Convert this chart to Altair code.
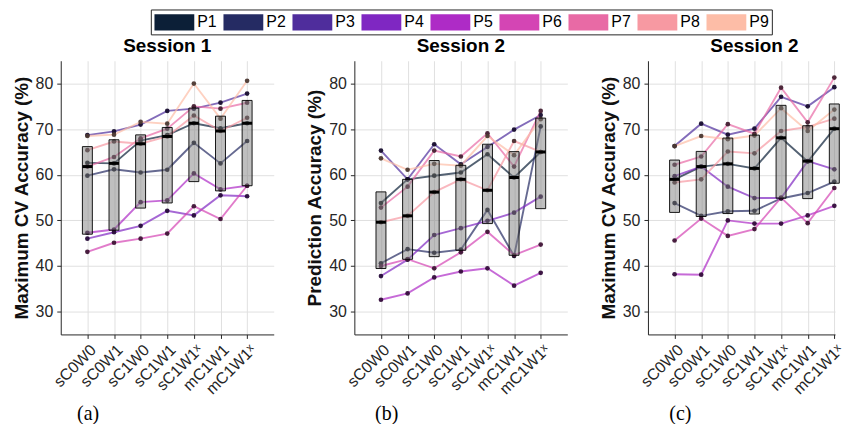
import altair as alt
import numpy as np
import pandas as pd

categories = ["sC0W0", "sC0W1", "sC1W0", "sC1W1", "sC1W1ˣ", "mC1W1", "mC1W1ˣ"]
participants = ["P1", "P2", "P3", "P4", "P5", "P6", "P7", "P8", "P9"]
colors = ["#0c1f37", "#252b63", "#4f2d9c", "#7f27c2", "#ae2bc6",
          "#d445b4", "#e86aa5", "#f799a2", "#fdbda7"]

panel_titles = ["Session 1", "Session 2", "Session 2"]
y_titles = ["Maximum CV Accuracy (%)", "Prediction Accuracy (%)", "Maximum CV Accuracy (%)"]
sub_labels = ["(a)", "(b)", "(c)"]
sub_label_x = [27, 32, 32]
y_ticks = [30, 40, 50, 60, 70, 80]

session1_cv = {
    "P1": [62.6, 62.5, 67.5, 68.7, 71.3, 70.2, 71.3],
    "P2": [59.8, 61.2, 60.5, 61.1, 67.0, 62.5, 67.4],
    "P3": [68.7, 69.5, 71.0, 74.0, 74.5, 75.8, 77.8],
    "P4": [46.0, 47.4, 48.8, 52.1, 51.1, 55.5, 55.3],
    "P5": [47.3, 48.0, 54.0, 54.4, 60.3, 56.8, 57.6],
    "P6": [43.1, 45.1, 46.0, 47.1, 53.1, 50.3, 57.6],
    "P7": [61.8, 63.9, 68.0, 70.1, 75.0, 74.5, 75.8],
    "P8": [65.4, 67.3, 66.8, 68.4, 73.0, 69.6, 72.5],
    "P9": [68.5, 68.8, 71.6, 71.2, 80.0, 72.3, 80.6],
}

session2_pred = {
    "P1": [53.8, 59.0, 59.8, 60.5, 64.5, 59.4, 65.0],
    "P2": [40.6, 43.7, 42.9, 43.6, 52.3, 42.2, 70.6],
    "P3": [65.3, 59.0, 66.7, 62.3, 66.1, 69.9, 73.1],
    "P4": [37.8, 41.4, 46.8, 48.3, 49.9, 51.7, 55.2],
    "P5": [32.6, 34.0, 37.5, 38.8, 39.5, 35.7, 38.5],
    "P6": [40.0, 41.5, 39.5, 43.0, 47.5, 42.4, 44.7],
    "P7": [52.8, 57.4, 65.3, 64.0, 69.1, 61.8, 74.0],
    "P8": [49.6, 51.0, 56.2, 59.0, 56.6, 67.4, 65.0],
    "P9": [63.6, 61.1, 62.4, 62.0, 68.5, 64.3, 72.2],
}

session2_cv = {
    "P1": [59.0, 61.8, 62.4, 61.4, 68.1, 62.9, 70.1],
    "P2": [53.8, 51.0, 52.0, 52.1, 54.8, 56.0, 58.5],
    "P3": [66.3, 71.2, 68.8, 70.1, 77.1, 75.0, 79.2],
    "P4": [59.7, 61.8, 57.4, 54.9, 54.9, 63.0, 61.2],
    "P5": [38.2, 38.1, 50.0, 49.3, 49.3, 51.1, 53.2],
    "P6": [45.6, 50.4, 46.6, 48.1, 55.0, 49.4, 57.1],
    "P7": [62.2, 64.0, 71.1, 69.0, 79.1, 71.5, 81.3],
    "P8": [58.3, 59.0, 65.1, 64.7, 69.6, 70.5, 72.3],
    "P9": [66.3, 68.5, 67.8, 68.6, 74.6, 69.6, 74.3],
}

panels_data = [session1_cv, session2_pred, session2_cv]


def darken(hexc, f=0.3):
    r, g, b = int(hexc[1:3], 16), int(hexc[3:5], 16), int(hexc[5:7], 16)
    return "#%02x%02x%02x" % (int(r * f), int(g * f), int(b * f))


dark_colors = [darken(c) for c in colors]

FONT = "Liberation Sans"
AXIS_COLOR = "#262626"
GRID_COLOR = "#e0e0e0"
H = 275
panel_widths = [214, 214, 188]
# point-scale layout so every panel has the same category spacing (26.75 px)
x_padding = [1.0, 1.0, 0.514]
x_align = [0.5, 0.5, 0.973]
title_dx = [0, 0, 13]

# legend geometry (relative to the left edge of the first plot)
LEG_LEFT, LEG_RIGHT, LEG_H = 91, 715, 25


def make_panel(i, values):
    rows = []
    for p in participants:
        for j, c in enumerate(categories):
            rows.append({"participant": p, "category": c, "value": values[p][j]})
    df = pd.DataFrame(rows)

    stats = []
    for j, c in enumerate(categories):
        v = np.array([values[p][j] for p in participants])
        q1, med, q3 = np.percentile(v, [25, 50, 75], method="hazen")
        stats.append({"category": c, "q1": q1, "med": med, "q3": q3})
    sdf = pd.DataFrame(stats)

    x_axis = alt.Axis(
        title=sub_labels[i], titleFont="Liberation Serif", titleFontSize=20,
        titleFontWeight="normal", titleColor="black", titleX=sub_label_x[i],
        titleY=79, titleBaseline="middle", titleAlign="center", titleAngle=0,
        labelAngle=-45, labelAlign="right", labelBaseline="top",
        labelFont=FONT, labelFontSize=16, labelColor=AXIS_COLOR, labelPadding=3,
        labelOverlap=False, tickSize=4, tickColor=AXIS_COLOR,
        domainColor=AXIS_COLOR, grid=True, gridColor=GRID_COLOR,
    )
    y_axis = alt.Axis(
        values=y_ticks, title=y_titles[i], titleFont=FONT, titleFontSize=19,
        titleFontWeight="bold", titleColor="#111111", titlePadding=4,
        labelFont=FONT, labelFontSize=16, labelColor=AXIS_COLOR, labelPadding=4,
        tickSize=4, tickColor=AXIS_COLOR, domainColor=AXIS_COLOR,
        grid=True, gridColor=GRID_COLOR,
    )
    xs = alt.Scale(type="point", padding=x_padding[i], align=x_align[i])
    ys = alt.Scale(domain=[25, 85], nice=False, zero=False)

    def X():
        return alt.X("category:N", sort=categories, scale=xs, axis=x_axis)

    def Yv():
        return alt.Y("value:Q", scale=ys, axis=y_axis)

    lines = alt.Chart(df).mark_line(strokeWidth=1.9, opacity=0.7).encode(
        x=X(), y=Yv(),
        stroke=alt.Stroke("participant:N", scale=alt.Scale(domain=participants, range=colors), legend=None),
    )
    dots = alt.Chart(df).mark_circle(size=22, opacity=0.95).encode(
        x=X(), y=Yv(),
        fill=alt.Fill("participant:N", scale=alt.Scale(domain=participants, range=dark_colors), legend=None),
    )
    boxes = alt.Chart(sdf).mark_bar(size=10, fill="#808080", fillOpacity=0.5,
                                    stroke="black", strokeWidth=1, strokeOpacity=0.9).encode(
        x=X(),
        y=alt.Y("q1:Q", scale=ys, axis=y_axis),
        y2="q3:Q",
    )
    medians = alt.Chart(sdf).mark_tick(color="black", thickness=3, size=10, opacity=1).encode(
        x=X(),
        y=alt.Y("med:Q", scale=ys, axis=y_axis),
    )

    return alt.layer(lines, dots, boxes, medians).properties(
        width=panel_widths[i], height=H,
        title=alt.TitleParams(
            text=panel_titles[i], font=FONT, fontSize=19, fontWeight="bold",
            color="black", offset=7.6, baseline="alphabetic", anchor="middle",
            frame="group", dx=title_dx[i], dy=18,
        ),
    )


# ---- legend row ----
leg_df = pd.DataFrame({"participant": participants})
frame_df = pd.DataFrame({"frame": [0]})
leg_x = alt.X("participant:N", sort=participants,
              scale=alt.Scale(type="point", padding=0.5, range=[LEG_LEFT, LEG_RIGHT]),
              axis=None)
frame = alt.Chart(frame_df).mark_rect(fill="white", stroke=AXIS_COLOR, strokeWidth=1).encode(
    x=alt.value(LEG_LEFT), x2=alt.value(LEG_RIGHT), y=alt.value(0), y2=alt.value(LEG_H),
)
swatches = alt.Chart(leg_df).mark_point(
    shape="M-1,-0.41H1V0.41H-1Z", size=1600, filled=True, opacity=1,
    strokeWidth=0, xOffset=-11.5,
).encode(
    x=leg_x,
    color=alt.Color("participant:N", scale=alt.Scale(domain=participants, range=colors), legend=None),
)
leg_labels = alt.Chart(leg_df).mark_text(
    align="left", baseline="middle", dx=11.5, font=FONT, fontSize=16, color="black",
).encode(x=leg_x, text="participant:N")
legend_row = alt.layer(frame, swatches, leg_labels).properties(width=LEG_RIGHT, height=LEG_H)

panels = [make_panel(i, d) for i, d in enumerate(panels_data)]
row = alt.hconcat(*panels, spacing=81, bounds="flush")

chart = alt.vconcat(
    legend_row, row, spacing=26, bounds="flush",
    padding={"left": 4, "top": 0, "right": 0, "bottom": 0},
).configure_view(stroke=None)

chart.save("out.html", embed_options={"renderer": "svg", "actions": False})
